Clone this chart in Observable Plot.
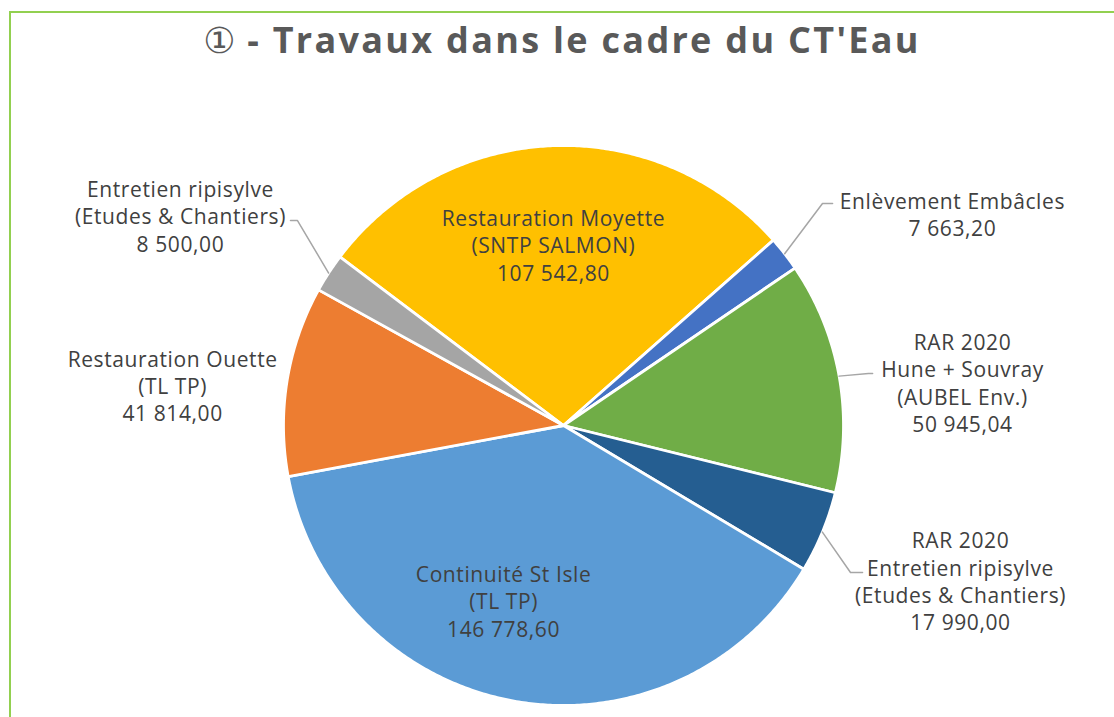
<!DOCTYPE html>
<html>
<head>
<meta charset="utf-8">
<script src="https://cdn.jsdelivr.net/npm/d3@7"></script>
<script src="https://cdn.jsdelivr.net/npm/@observablehq/plot@0.6"></script>
<style>
  html, body { margin: 0; padding: 0; background: #fff; overflow: hidden; }
  #frame { position: absolute; left: 9px; top: 11px; width: 1200px; height: 800px;
           border-top: 2px solid #92d050; border-left: 2px solid #92d050; box-sizing: border-box; }
  #title { position: relative; height: 80px; box-sizing: border-box; padding-top: 20px; padding-left: 10px;
           width: 1114px; text-align: center; font-family: "Open Sans", sans-serif; font-weight: bold;
           font-size: 36px; line-height: 40px; color: #595959; letter-spacing: 2.3px; white-space: nowrap; }
  #title .num { font-weight: normal; font-family: "DejaVu Sans", sans-serif; letter-spacing: 0; }
  #chart { position: relative; }
  #chart svg text { letter-spacing: 0.6px; }
</style>
</head>
<body>
<div id="frame"></div>
<div id="title"><span class="num">①</span> - Travaux dans le cadre du CT'Eau</div>
<div id="chart"></div>
<script>
// ---- Data ----
const categories = [
  "Restauration Moyette\n(SNTP SALMON)",
  "Enlèvement Embâcles",
  "RAR 2020\nHune + Souvray\n(AUBEL Env.)",
  "RAR 2020\nEntretien ripisylve\n(Etudes & Chantiers)",
  "Continuité St Isle\n(TL TP)",
  "Restauration Ouette\n(TL TP)",
  "Entretien ripisylve\n(Etudes & Chantiers)"
];
const values = [107542.80, 7663.20, 50945.04, 17990.00, 146778.60, 41814.00, 8500.00];
const colors = ["#FFC000", "#4472C4", "#70AD47", "#255E91", "#5B9BD5", "#ED7D31", "#A5A5A5"];

// ---- Layout (pie units: radius = 1, y up) ----
const firstSliceAngle = 307; // degrees, clockwise from 12 o'clock
// label block centre, and leader elbow/end (null = no leader)
const labelLayout = [
  {lx: -0.036, ly: 0.646, leader: null},
  {lx: 1.389, ly: 0.757, leader: [[0.925, 0.793], [0.961, 0.793]]},
  {lx: 1.425, ly: 0.154, leader: [[1.089, 0.186], [1.104, 0.186]]},
  {lx: 1.418, ly: -0.554, leader: [[1.025, -0.525], [1.068, -0.525]]},
  {lx: -0.214, ly: -0.625, leader: null},
  {lx: -1.396, ly: 0.143, leader: null},
  {lx: -1.368, ly: 0.75, leader: [[-0.95, 0.732], [-0.975, 0.732]]}
];
const R = 280, CX = 563, CY = 345, W = 1114, H = 637;

const fr = d3.formatLocale({decimal: ",", thousands: " ", grouping: [3], currency: ["", ""]});
const fmt = fr.format(",.2f");

const a0 = (firstSliceAngle - 360) * Math.PI / 180;
const arcs = d3.pie().sort(null).startAngle(a0).endAngle(a0 + 2 * Math.PI)(values);
const pt = (a, r = 1) => [r * Math.sin(a), r * Math.cos(a)];

const slices = arcs.map((arc, i) => {
  const n = Math.max(2, Math.ceil((arc.endAngle - arc.startAngle) / (Math.PI / 360)));
  const ring = [[0, 0]];
  for (let k = 0; k <= n; ++k) ring.push(pt(arc.startAngle + (arc.endAngle - arc.startAngle) * k / n));
  ring.push([0, 0]);
  return {type: "Feature", properties: {key: categories[i]}, geometry: {type: "Polygon", coordinates: [ring]}};
});

const labels = arcs.map((arc, i) => ({
  u: labelLayout[i].lx, v: labelLayout[i].ly,
  text: categories[i] + "\n" + fmt(values[i])
}));

const leaders = arcs.map((arc, i) => {
  const L = labelLayout[i].leader;
  if (!L) return null;
  const mid = (arc.startAngle + arc.endAngle) / 2;
  return {type: "Feature", properties: {}, geometry: {type: "LineString", coordinates: [pt(mid), ...L]}};
}).filter(Boolean);

const chart = Plot.plot({
  width: W, height: H,
  margin: 0,
  style: {fontFamily: "'Open Sans', sans-serif", background: "transparent"},
  projection: {type: () => d3.geoIdentity().reflectY(true).scale(R).translate([CX, CY]), clip: false},
  color: {domain: categories, range: colors},
  marks: [
    Plot.geo(slices, {fill: d => d.properties.key, stroke: "white", strokeWidth: 2.8, strokeLinejoin: "round"}),
    Plot.geo(leaders, {stroke: "#a6a6a6", strokeWidth: 1.5, fill: "none"}),
    Plot.text(labels, {x: "u", y: "v", text: "text", fontSize: 21, lineHeight: 1.3,
      fill: "#404040", textAnchor: "middle", fontFamily: "'Open Sans', sans-serif"})
  ]
});
document.getElementById("chart").appendChild(chart);
</script>
</body>
</html>
